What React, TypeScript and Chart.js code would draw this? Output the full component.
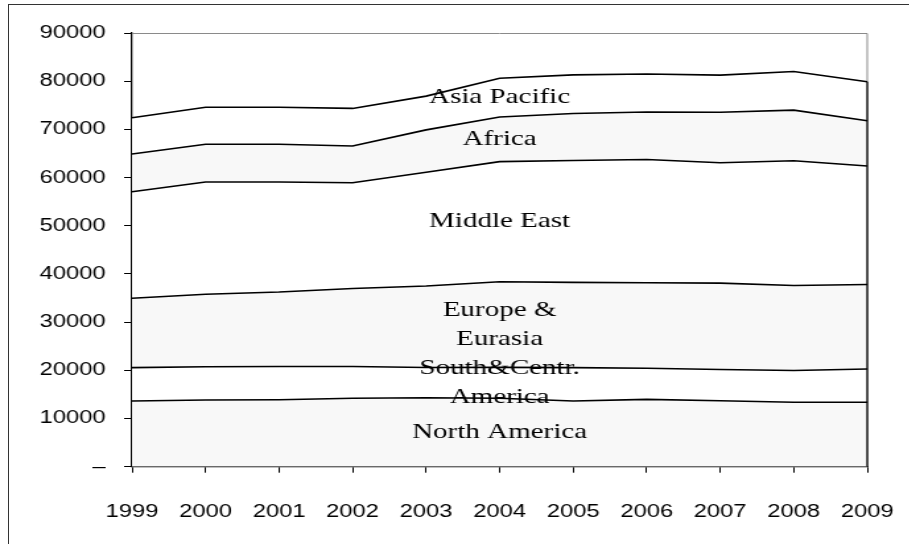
import React, { useEffect, useRef } from "react";
import { Chart, registerables } from "chart.js";

Chart.register(...registerables);

const years = ["1999", "2000", "2001", "2002", "2003", "2004", "2005", "2006", "2007", "2008", "2009"];
const northAmerica = [13630, 13840, 13900, 14190, 14320, 14190, 13630, 13980, 13700, 13360, 13360];
const southCentralAmerica = [6920, 6910, 6890, 6610, 6260, 6430, 6920, 6440, 6470, 6600, 6910];
const europeEurasia = [14400, 15030, 15460, 16180, 16920, 17770, 17710, 17760, 17930, 17640, 17530];
const middleEast = [22120, 23300, 22830, 21950, 23600, 24910, 25280, 25570, 24980, 25900, 24600];
const africa = [7830, 7820, 7820, 7620, 8800, 9260, 9760, 9850, 10470, 10500, 9400];
const asiaPacific = [7500, 7700, 7700, 7800, 7000, 8040, 8000, 7900, 7700, 8000, 8100];

const seriesLabels = [["North America"], ["South&Centr.", "America"], ["Europe &", "Eurasia"], ["Middle East"], ["Africa"], ["Asia Pacific"]];
const labelIndex = 5;
const yTicks = [0, 10000, 20000, 30000, 40000, 50000, 60000, 70000, 80000, 90000];

const STRETCH = 1.32;
const CANVAS_W = 689;
const CANVAS_H = 544;

const GRAY = "#f8f8f8";
const WHITE = "#ffffff";

const frame = {
  id: "frame",
  beforeDatasetsDraw(chart: any) {
    const { ctx, chartArea } = chart;
    ctx.save();
    ctx.strokeStyle = "#8a8a8a";
    ctx.lineWidth = 1;
    ctx.beginPath();
    ctx.moveTo(chartArea.left, chartArea.top + 0.5);
    ctx.lineTo(chartArea.right, chartArea.top + 0.5);
    ctx.lineTo(chartArea.right, chartArea.bottom);
    ctx.stroke();
    ctx.restore();
  },
  afterDatasetsDraw(chart: any) {
    const { ctx, chartArea, scales } = chart;
    const ds = chart.data.datasets;
    const last = ds[0].data.length - 1;
    let total = 0;
    ds.forEach((d: any) => (total += d.data[last]));
    ctx.save();
    ctx.strokeStyle = "#000";
    ctx.lineWidth = 1.3;
    ctx.beginPath();
    ctx.moveTo(chartArea.right, scales.y.getPixelForValue(total));
    ctx.lineTo(chartArea.right, chartArea.bottom);
    ctx.stroke();

    ctx.fillStyle = "#000";
    ctx.font = '22px "Liberation Serif", "Times New Roman", serif';
    ctx.textAlign = "center";
    ctx.textBaseline = "middle";
    let lo = 0;
    ds.forEach((d: any, i: number) => {
      const hi = lo + d.data[labelIndex];
      const yMid = scales.y.getPixelForValue((lo + hi) / 2);
      const x = scales.x.getPixelForValue(labelIndex);
      const lines = seriesLabels[i];
      const lh = 28.5;
      lines.forEach((t, k) => {
        ctx.fillText(t, x, yMid + (k - (lines.length - 1) / 2) * lh);
      });
      lo = hi;
    });
    ctx.restore();
  },
};

export default function App() {
  const ref = useRef<HTMLCanvasElement | null>(null);

  useEffect(() => {
    document.body.style.overflow = "hidden";
    const canvas = ref.current!;
    const mk = (label: string, data: number[], bg: string, fill: any) => ({
      label,
      data,
      backgroundColor: bg,
      borderColor: "#000",
      borderWidth: 1.6,
      pointRadius: 0,
      tension: 0,
      fill,
    });
    const chart = new Chart(canvas, {
      type: "line",
      data: {
        labels: years,
        datasets: [
          mk("North America", northAmerica, GRAY, "origin"),
          mk("South&Centr. America", southCentralAmerica, WHITE, "-1"),
          mk("Europe & Eurasia", europeEurasia, GRAY, "-1"),
          mk("Middle East", middleEast, WHITE, "-1"),
          mk("Africa", africa, GRAY, "-1"),
          mk("Asia Pacific", asiaPacific, WHITE, "-1"),
        ],
      },
      options: {
        responsive: false,
        animation: false,
        devicePixelRatio: 1,
        layout: { padding: { top: 33, right: 32, bottom: 0, left: 0 } },
        plugins: { legend: { display: false }, tooltip: { enabled: false } },
        scales: {
          x: {
            offset: false,
            grid: { display: true, drawOnChartArea: false, drawTicks: true, tickLength: 6, color: "#000" },
            border: { display: true, color: "#000", width: 1.3 },
            ticks: {
              autoSkip: false,
              maxRotation: 0,
              padding: 29,
              color: "#000",
              font: { family: '"Liberation Sans", Arial, sans-serif', size: 18 },
            },
            afterFit(scale: any) {
              scale.height = 77.3;
              scale.paddingLeft = 0;
              scale.paddingRight = 0;
            },
          },
          y: {
            stacked: true,
            min: 0,
            max: 90000,
            afterBuildTicks(scale: any) {
              scale.ticks = yTicks.map((v) => ({ value: v }));
            },
            grid: { display: true, drawOnChartArea: false, drawTicks: true, tickLength: 6, color: "#000" },
            border: { display: true, color: "#000", width: 1.3 },
            ticks: {
              padding: 14,
              color: "#000",
              font: { family: '"Liberation Sans", Arial, sans-serif', size: 18 },
              callback: (v: any) => (Number(v) === 0 ? "–" : String(v)),
            },
            afterFit(scale: any) {
              scale.width = 100;
            },
          },
        },
      },
      plugins: [frame],
    });
    return () => chart.destroy();
  }, []);

  return (
    <div>
      <canvas
        ref={ref}
        width={CANVAS_W}
        height={CANVAS_H}
        style={{
          position: "fixed",
          left: 0,
          top: 0,
          transform: `scaleX(${STRETCH})`,
          transformOrigin: "0 0",
        }}
      />
      <div
        style={{
          position: "fixed",
          left: 8,
          top: 4,
          width: 1000,
          height: 1000,
          border: "1px solid #333",
          pointerEvents: "none",
        }}
      />
    </div>
  );
}
